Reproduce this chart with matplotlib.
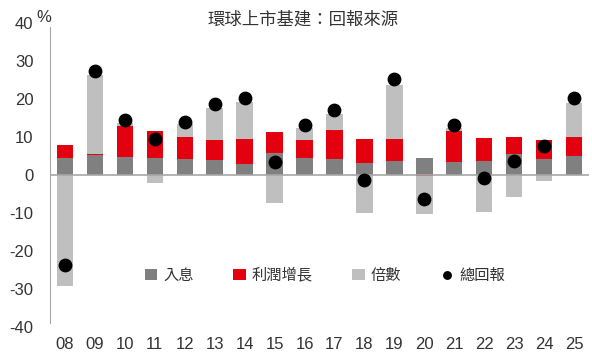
import numpy as np
import matplotlib
matplotlib.use("Agg")
import matplotlib.pyplot as plt

plt.rcParams['font.family'] = ['Noto Sans CJK TC', 'DejaVu Sans']
plt.rcParams['axes.unicode_minus'] = False

years = ["08", "09", "10", "11", "12", "13", "14", "15", "16", "17",
         "18", "19", "20", "21", "22", "23", "24", "25"]
income = [4.4, 5.3, 4.7, 4.5, 4.1, 3.9, 2.9, 5.8, 4.5, 4.1,
          3.1, 3.8, 4.4, 3.4, 3.7, 5.4, 4.2, 5.1]
earnings = [3.4, 0.2, 8.1, 7.0, 5.9, 5.3, 6.6, 5.5, 4.6, 7.8,
            6.5, 5.6, -0.3, 8.3, 6.0, 4.5, 4.9, 5.0]
multiple = [-29.2, 20.7, 1.0, -2.0, 3.3, 8.5, 9.6, -7.3, 3.4, 4.2,
            -10.1, 14.2, -10.0, 0.6, -9.7, -5.7, -1.5, 8.8]
total = [-23.7, 27.4, 14.5, 9.6, 14.0, 18.6, 20.2, 3.5, 13.1, 17.1,
         -1.3, 25.2, -6.3, 13.1, -0.9, 3.8, 7.7, 20.2]

labels = ["入息", "利潤增長", "倍數"]
colors = ["#808080", "#e3000f", "#bfbfbf"]

fig = plt.figure(figsize=(5.92, 3.62), dpi=100)
ax = fig.add_axes([50/592, 35/362, 539/592, 304/362])

x = np.arange(len(years))
w = 0.55
pos = np.zeros(len(years))
neg = np.zeros(len(years))
handles = []
for vals, lab, col in zip([income, earnings, multiple], labels, colors):
    v = np.array(vals)
    bottom = np.where(v >= 0, pos, neg)
    h = ax.bar(x, v, w, bottom=bottom, color=col, label=lab, linewidth=0)
    handles.append(h)
    pos = pos + np.where(v >= 0, v, 0)
    neg = neg + np.where(v < 0, v, 0)

sc = ax.scatter(x, total, s=80, color="black", zorder=5, label="總回報")
handles.append(sc)

ax.axhline(0, color="#a6a6a6", linewidth=1.2, zorder=4)
ax.set_xlim(-0.5, len(years) - 0.5)
ax.set_ylim(-40, 40)
ax.set_yticks(range(-40, 41, 10))
ax.set_xticks(x)
ax.set_xticklabels(years)
ax.tick_params(length=0, labelsize=12, colors="#333333")
ax.tick_params(axis="y", pad=12)
ax.tick_params(axis="x", pad=7)
for lbl in ax.get_xticklabels() + ax.get_yticklabels():
    lbl.set_family(["Liberation Sans", "DejaVu Sans"])
for s in ["top", "right", "bottom"]:
    ax.spines[s].set_visible(False)
ax.spines["left"].set_color("#a6a6a6")
ax.spines["left"].set_bounds(-39, 39)

ax.text(-0.95, 39.5, "%", fontsize=12, color="#333333", ha="left", va="bottom",
        family=["Liberation Sans", "DejaVu Sans"])
fig.text(0.512, 0.945, "環球上市基建：回報來源", fontsize=12.5, color="#333333",
         ha="center", va="center")

ax.legend(handles=handles, labels=labels + ["總回報"], loc="center",
          bbox_to_anchor=(0.51, 0.17), ncol=4, frameon=False,
          fontsize=11, handlelength=0.8, handleheight=0.8, handletextpad=0.4,
          columnspacing=2.6, labelcolor="#333333", markerscale=0.6)

fig.savefig("out.png", dpi=100)
